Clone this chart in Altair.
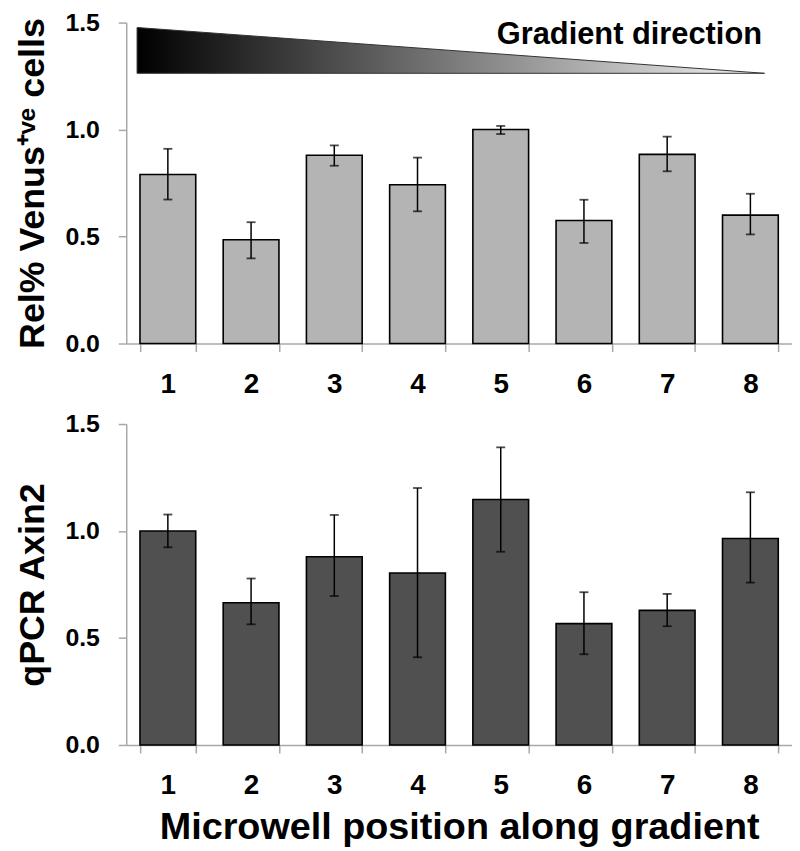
import altair as alt
import pandas as pd

# ---- data ----
positions = [1, 2, 3, 4, 5, 6, 7, 8]
venus_mean = [0.79, 0.485, 0.88, 0.742, 1.0, 0.575, 0.884, 0.60]
venus_low = [0.673, 0.398, 0.831, 0.618, 0.979, 0.47, 0.805, 0.51]
venus_high = [0.91, 0.567, 0.926, 0.869, 1.017, 0.672, 0.967, 0.70]
axin_mean = [1.0, 0.665, 0.88, 0.804, 1.147, 0.567, 0.629, 0.965]
axin_low = [0.924, 0.564, 0.696, 0.41, 0.903, 0.424, 0.555, 0.759]
axin_high = [1.077, 0.778, 1.075, 1.201, 1.391, 0.714, 0.706, 1.181]

# gradient wedge (x in position units, y in axis units)
wedge_x = [0.63, 8.17]
wedge_top = [1.477, 1.263]
wedge_base = [1.263, 1.263]
wedge_label = ["Gradient direction"]
wedge_label_x = [8.14]
wedge_label_y = [1.398]

FONT = "Liberation Sans"
W, H = 670, 323
AXIS_GRAY = "#a8a8a8"


def make_yaxis(ytitle):
    return alt.Axis(
        values=[0, 0.5, 1.0, 1.5], format=".1f", grid=False,
        labelFontSize=25, labelFontWeight="bold", labelColor="black", labelFont=FONT,
        tickSize=8, tickColor=AXIS_GRAY, domainColor=AXIS_GRAY, domainWidth=1.5,
        tickWidth=1.5, labelPadding=19, title=ytitle, titleFontSize=36,
        titleFont=FONT, titleFontWeight="bold", titleColor="black", titlePadding=14,
    )


def panel(means, lows, highs, fill, yaxis, show_xtitle):
    df = pd.DataFrame({"pos": positions, "mean": means, "low": lows, "high": highs})
    caps = pd.DataFrame({
        "pos": positions + positions,
        "val": lows + highs,
    })
    xscale = alt.Scale(paddingInner=0.33, paddingOuter=0.165)
    yscale = alt.Scale(domain=[0, 1.5], nice=False)
    xaxis = alt.Axis(
        labelAngle=0, labelFontSize=28, labelFontWeight="bold", labelColor="black",
        labelFont=FONT, tickBand="extent", tickSize=8, tickColor=AXIS_GRAY,
        domainColor=AXIS_GRAY, domainWidth=1.5, tickWidth=1.5, labelPadding=19,
        title="Microwell position along gradient" if show_xtitle else None,
        titleFontSize=38, titleFont=FONT, titleFontWeight="bold", titleColor="black",
        titlePadding=9,
    )
    bars = alt.Chart(df).mark_bar(
        fill=fill, stroke="black", strokeWidth=1.6
    ).encode(
        x=alt.X("pos:O", scale=xscale, axis=xaxis),
        y=alt.Y("mean:Q", scale=yscale, axis=yaxis),
    )
    rules = alt.Chart(df).mark_rule(color="black", strokeWidth=1.5).encode(
        x=alt.X("pos:O", scale=xscale),
        y=alt.Y("low:Q", scale=yscale, axis=yaxis),
        y2="high:Q",
    )
    tick = alt.Chart(caps).mark_tick(color="black", size=9, thickness=1.8).encode(
        x=alt.X("pos:O", scale=xscale),
        y=alt.Y("val:Q", scale=yscale, axis=yaxis),
    )
    return alt.layer(bars, rules, tick)


top_yaxis = make_yaxis("Rel% Venus\u207a\u1d5b\u1d49 cells")
top_bars = panel(venus_mean, venus_low, venus_high, "#b4b4b4", top_yaxis, False)

wedge_df = pd.DataFrame({"gx": wedge_x, "top": wedge_top, "base": wedge_base})
label_df = pd.DataFrame({"lx": wedge_label_x, "ly": wedge_label_y, "t": wedge_label})
qx = alt.Scale(domain=[0.5, 8.5], nice=False, zero=False)
qy = alt.Scale(domain=[0, 1.5], nice=False)

wedge = alt.Chart(wedge_df).mark_area(
    color=alt.Gradient(
        gradient="linear",
        stops=[alt.GradientStop(color="#000000", offset=0),
               alt.GradientStop(color="#f4f4f4", offset=1)],
        x1=0, x2=1, y1=0, y2=0,
    ),
    stroke="#333333", strokeWidth=1,
).encode(
    x=alt.X("gx:Q", scale=qx, axis=None),
    y=alt.Y("top:Q", scale=qy, axis=top_yaxis),
    y2="base:Q",
)
wedge_text = alt.Chart(label_df).mark_text(
    align="right", baseline="alphabetic", fontSize=31, fontWeight="bold",
    font=FONT, color="black",
).encode(
    x=alt.X("lx:Q", scale=qx, axis=None),
    y=alt.Y("ly:Q", scale=qy, axis=top_yaxis),
    text="t:N",
)

top = alt.layer(top_bars, alt.layer(wedge, wedge_text)).resolve_scale(
    x="independent"
).properties(width=W, height=H)

bottom = panel(axin_mean, axin_low, axin_high, "#505050",
               make_yaxis("qPCR Axin2"), True).properties(width=W, height=H)

chart = alt.vconcat(top, bottom, spacing=14).properties(
    padding={"left": 6, "top": 0, "right": 0, "bottom": 0}
).configure_view(stroke=None)

chart.save("out.html", embed_options={"renderer": "svg", "actions": False})
